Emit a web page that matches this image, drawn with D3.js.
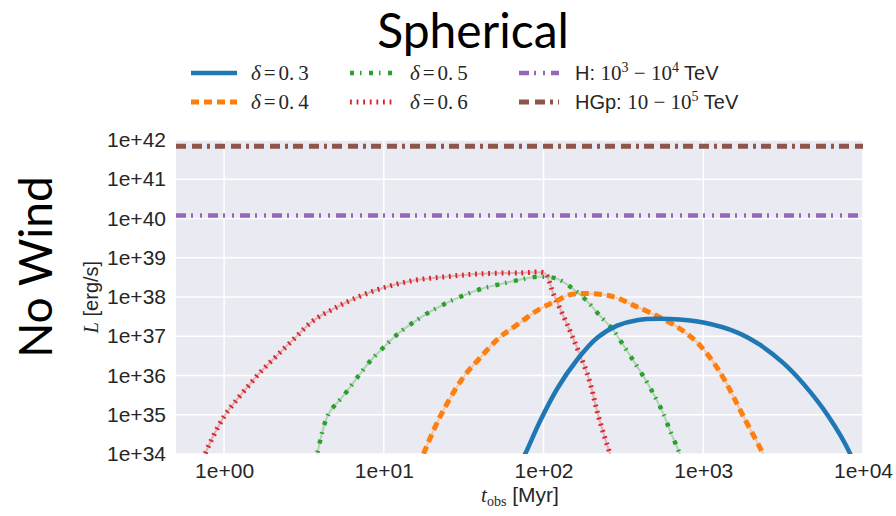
<!DOCTYPE html>
<html>
<head>
<meta charset="utf-8">
<script src="https://cdn.jsdelivr.net/npm/d3@7"></script>
<style>
  body { margin: 0; background: #fff; }
  text { fill: #262626; }
</style>
</head>
<body>
<div id="chart"></div>
<script>
// values (t in Myr, L in erg/s)
var tD3 = [72, 76.7, 95.2, 121.7, 160, 216.7, 289, 385, 621, 1002, 1624, 2271, 3164, 4225, 6055, 8318, 8800];
var lD3 = [6.3e33, 1e34, 6.9e34, 4.6e35, 2.34e36, 9.1e36, 1.86e37, 2.57e37, 2.75e37, 2.24e37, 1.26e37, 6.0e36, 2.09e36, 6.2e35, 9.3e34, 1e34, 5e33];

var tD4 = [16.5, 17.7, 22.5, 31.4, 40, 52.7, 64.5, 95, 118, 147, 185, 236, 289, 360, 465, 667, 889, 1137, 1371, 1778, 2371, 2550];
var lD4 = [5e33, 1e34, 8.9e34, 8.9e35, 2.8e36, 9.1e36, 1.66e37, 5.0e37, 7.6e37, 1.15e38, 1.23e38, 1.15e38, 9.5e37, 6.3e37, 3.98e37, 1.86e37, 7.8e36, 2.4e36, 7.2e35, 9.3e34, 1e34, 5e33];

var tD5 = [3.7, 3.82, 4.48, 5.64, 7.0, 8.3, 10.1, 12.3, 15.4, 19.4, 24.8, 32, 41.8, 54, 71, 94, 122, 154, 186, 226, 275, 317, 432, 492, 552, 620, 713, 740];
var lD5 = [6.3e33, 1e34, 1e35, 3.2e35, 1.02e36, 2.45e36, 5.5e36, 1.17e37, 2.29e37, 4.17e37, 7.1e37, 1.12e38, 1.66e38, 2.14e38, 2.75e38, 3.3e38, 2.9e38, 1.58e38, 8.1e37, 3.3e37, 1.38e37, 5.8e36, 8.1e35, 3.2e35, 1.26e35, 3.9e34, 1e34, 6.3e33];

var tD6 = [0.72, 0.76, 0.99, 1.14, 1.39, 1.68, 2.14, 2.78, 3.62, 4.84, 6.45, 9.48, 15.3, 24.8, 40, 71, 102, 108, 115, 131, 151, 191, 221, 261, 277];
var lD6 = [5e33, 1e34, 8.5e34, 1.86e35, 4.9e35, 1.2e36, 3.2e36, 9.1e36, 2.5e37, 5.0e37, 8.9e37, 1.62e38, 2.63e38, 3.3e38, 3.9e38, 4.1e38, 4.0e38, 2.63e38, 1.23e38, 3.8e37, 1.02e37, 8.9e35, 8.9e34, 1e34, 5e33];

var tFlat = [0.5, 1e4];
var lH = [1.2e40, 1.2e40];
var lHGp = [6.9e41, 6.9e41];

var xTicks = [1, 10, 100, 1000, 10000];
var xTickLabels = ["1e+00", "1e+01", "1e+02", "1e+03", "1e+04"];
var yTicks = [1e34, 1e35, 1e36, 1e37, 1e38, 1e39, 1e40, 1e41, 1e42];
var yTickLabels = ["1e+34", "1e+35", "1e+36", "1e+37", "1e+38", "1e+39", "1e+40", "1e+41", "1e+42"];

// plot box
var margin = {top: 140, right: 33, bottom: 62, left: 176},
    width = 896 - margin.left - margin.right,
    height = 516 - margin.top - margin.bottom;

var svg = d3.select("#chart")
  .append("svg")
    .attr("width", 896)
    .attr("height", 516);

var g = svg.append("g")
    .attr("transform", "translate(" + margin.left + "," + margin.top + ")");

var x = d3.scaleLog().domain([0.5, 1e4]).range([0, width]);
var y = d3.scaleLog().domain([1e34, 1e42]).range([height, 0]);

g.append("rect")
  .attr("width", width)
  .attr("height", height)
  .attr("fill", "#eaeaf2");

// grid
g.selectAll(".gx").data(xTicks).enter().append("line")
  .attr("x1", function(d) { return x(d); })
  .attr("x2", function(d) { return x(d); })
  .attr("y1", 0).attr("y2", height)
  .attr("stroke", "#fff").attr("stroke-width", 1.5);
g.selectAll(".gy").data(yTicks).enter().append("line")
  .attr("y1", function(d) { return y(d); })
  .attr("y2", function(d) { return y(d); })
  .attr("x1", 0).attr("x2", width)
  .attr("stroke", "#fff").attr("stroke-width", 1.5);

// tick labels
var xAxis = d3.axisBottom(x).tickValues(xTicks).tickSize(0).tickPadding(9)
  .tickFormat(function(d, i) { return xTickLabels[i]; });
var yAxis = d3.axisLeft(y).tickValues(yTicks).tickSize(0).tickPadding(10)
  .tickFormat(function(d, i) { return yTickLabels[i]; });

var gx = g.append("g").attr("transform", "translate(0," + height + ")").call(xAxis);
var gy = g.append("g").call(yAxis);
[gx, gy].forEach(function(a) {
  a.select(".domain").remove();
  a.selectAll("text")
    .attr("font-family", "Liberation Sans, Arial, sans-serif")
    .attr("font-size", 21)
    .attr("fill", "#262626");
});

g.append("clipPath").attr("id", "clip")
  .append("rect").attr("width", width).attr("height", height);

var line = d3.line()
  .x(function(d) { return x(d[0]); })
  .y(function(d) { return y(d[1]); })
  .curve(d3.curveCatmullRom.alpha(0.5));

var series = [
  {t: tFlat, l: lHGp, color: "#8c564b", w: 5, dash: "10,6,10,5,3,5", under: false},
  {t: tFlat, l: lH, color: "#9467bd", w: 4.5, dash: "10,5,2,7,2,6", under: false},
  {t: tD6, l: lD6, color: "#d62728", w: 5, dash: "1.8,4.8", under: true},
  {t: tD5, l: lD5, color: "#2ca02c", w: 4.5, dash: "4,6,1.5,7.5", under: true},
  {t: tD4, l: lD4, color: "#ff7f0e", w: 5, dash: "8,5", under: true},
  {t: tD3, l: lD3, color: "#1f77b4", w: 4.5, dash: null, under: false}
];

var plot = g.append("g").attr("clip-path", "url(#clip)");
series.forEach(function(s) {
  var pts = s.t.map(function(t, i) { return [t, s.l[i]]; });
  if (s.under) {
    plot.append("path").datum(pts)
      .attr("fill", "none")
      .attr("stroke", s.color)
      .attr("stroke-opacity", 0.3)
      .attr("stroke-width", 2)
      .attr("d", line);
  }
  plot.append("path").datum(pts)
    .attr("fill", "none")
    .attr("stroke", s.color)
    .attr("stroke-width", s.w)
    .attr("stroke-dasharray", s.dash)
    .attr("d", line);
});

var serif = "Liberation Serif, serif", sans = "Liberation Sans, Arial, sans-serif";

// axis labels
svg.append("text")
  .attr("x", 520).attr("y", 502)
  .attr("text-anchor", "middle")
  .attr("font-size", 21)
  .call(function(t) {
    t.append("tspan").attr("font-family", serif).attr("font-style", "italic").text("t");
    t.append("tspan").attr("font-family", serif).attr("font-size", 14).attr("dy", 4).text("obs");
    t.append("tspan").attr("font-family", sans).attr("dy", -4).text(" [Myr]");
  });

svg.append("text")
  .attr("transform", "translate(98,297) rotate(-90)")
  .attr("text-anchor", "middle")
  .attr("font-size", 20)
  .call(function(t) {
    t.append("tspan").attr("font-family", serif).attr("font-style", "italic").text("L");
    t.append("tspan").attr("font-family", sans).text(" [erg/s]");
  });

// title and row label
svg.append("text")
  .attr("x", 473).attr("y", 48)
  .attr("text-anchor", "middle")
  .attr("font-family", "Lato, Open Sans, sans-serif")
  .attr("font-size", 48)
  .style("fill", "#000")
  .text("Spherical");

svg.append("text")
  .attr("transform", "translate(52,267) rotate(-90)")
  .attr("text-anchor", "middle")
  .attr("font-family", "Lato, Open Sans, sans-serif")
  .attr("font-size", 46)
  .style("fill", "#000")
  .text("No Wind");

// legend
var legendItems = [
  {x: 191, y: 73, s: series[5], kind: "d", v: "3"},
  {x: 191, y: 102, s: series[4], kind: "d", v: "4"},
  {x: 350, y: 73, s: series[3], kind: "d", v: "5"},
  {x: 350, y: 102, s: series[2], kind: "d", v: "6"},
  {x: 519, y: 73, s: series[1], kind: "H"},
  {x: 519, y: 102, s: series[0], kind: "HGp"}
];
legendItems.forEach(function(it) {
  var len = it.kind === "d" ? 46 : 40;
  svg.append("line")
    .attr("x1", it.x).attr("x2", it.x + len)
    .attr("y1", it.y).attr("y2", it.y)
    .attr("stroke", it.s.color)
    .attr("stroke-width", it.s.w)
    .attr("stroke-dasharray", it.s.dash);
  var tx = svg.append("text")
    .attr("x", it.x + len + (it.kind === "d" ? 14 : 16))
    .attr("y", it.y + 7)
    .attr("font-size", 21);
  if (it.kind === "d") {
    tx.append("tspan").attr("font-family", serif).attr("font-style", "italic").text("δ");
    tx.append("tspan").attr("font-family", serif).attr("dx", 3).text("=");
    tx.append("tspan").attr("font-family", serif).attr("dx", 3).text("0.");
    tx.append("tspan").attr("font-family", serif).attr("dx", 4).text(it.v);
  } else if (it.kind === "H") {
    tx.append("tspan").attr("font-family", sans).attr("font-size", 20).text("H: ");
    tx.append("tspan").attr("font-family", serif).text("10");
    tx.append("tspan").attr("font-family", serif).attr("font-size", 14).attr("dy", -8).text("3");
    tx.append("tspan").attr("font-family", serif).attr("dy", 8).text(" − 10");
    tx.append("tspan").attr("font-family", serif).attr("font-size", 14).attr("dy", -8).text("4");
    tx.append("tspan").attr("font-family", sans).attr("font-size", 20).attr("dy", 8).text(" TeV");
  } else {
    tx.append("tspan").attr("font-family", sans).attr("font-size", 20).text("HGp: ");
    tx.append("tspan").attr("font-family", serif).text("10 − 10");
    tx.append("tspan").attr("font-family", serif).attr("font-size", 14).attr("dy", -8).text("5");
    tx.append("tspan").attr("font-family", sans).attr("font-size", 20).attr("dy", 8).text(" TeV");
  }
});
</script>
</body>
</html>
